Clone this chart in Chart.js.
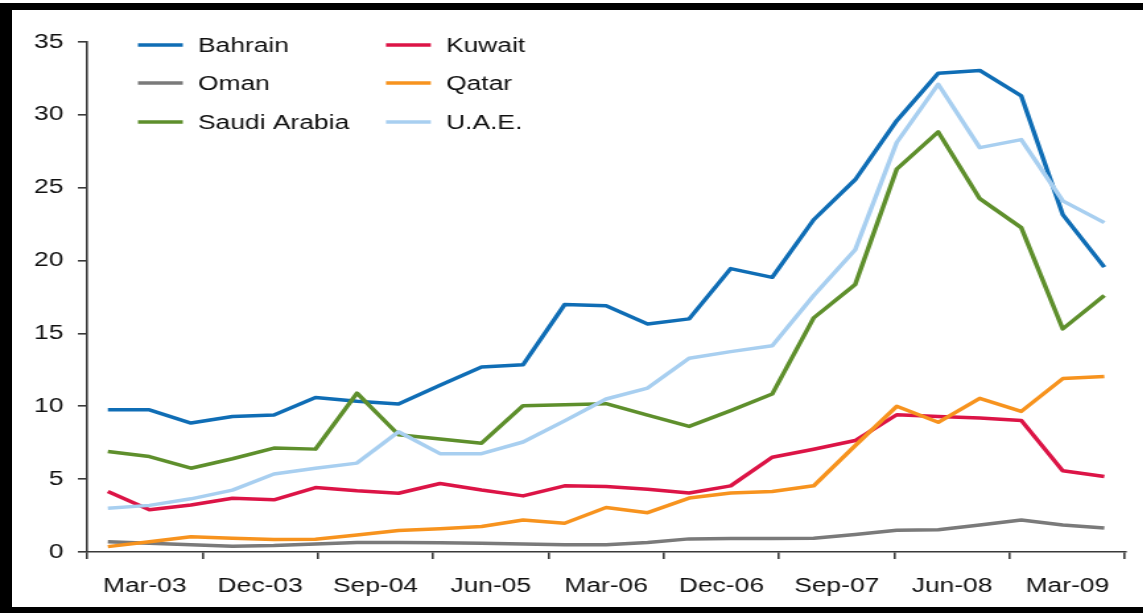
<!DOCTYPE html>
<html>
<head>
<meta charset="utf-8">
<script src="https://cdn.jsdelivr.net/npm/chart.js@4.4.0/dist/chart.umd.min.js"></script>
<style>
  html, body { margin:0; padding:0; background:#fff; overflow:hidden; }
  /* the source picture is stretched sideways, so the whole chart is too */
  #wrap { position:absolute; left:0; top:0; width:866px; height:613px; transform:scaleX(1.32); transform-origin:0 0; }
  .bar { position:absolute; background:#000; }
</style>
</head>
<body>
<div id="wrap"><canvas id="c"></canvas></div>
<div class="bar" style="left:0;top:3px;width:1143px;height:7px"></div>
<div class="bar" style="left:0;top:3px;width:12px;height:610px"></div>
<div class="bar" style="left:0;top:607px;width:1143px;height:6px"></div>
<script>
const quarters = ['Mar-03','Jun-03','Sep-03','Dec-03','Mar-04','Jun-04','Sep-04','Dec-04','Mar-05','Jun-05',
  'Sep-05','Dec-05','Mar-06','Jun-06','Sep-06','Dec-06','Mar-07','Jun-07','Sep-07','Dec-07',
  'Mar-08','Jun-08','Sep-08','Dec-08','Mar-09'];
const tickLabels = ['Mar-03','Dec-03','Sep-04','Jun-05','Mar-06','Dec-06','Sep-07','Jun-08','Mar-09'];

const bahrain = [9.76, 9.76, 8.85, 9.3, 9.4, 10.6, 10.35, 10.15, 11.45, 12.7, 12.85, 16.98, 16.9, 15.65, 16.0, 19.45, 18.85, 22.8, 25.55, 29.6, 32.85, 33.05, 31.3, 23.15, 19.55];
const kuwait = [4.15, 2.9, 3.23, 3.69, 3.58, 4.42, 4.2, 4.03, 4.7, 4.25, 3.85, 4.54, 4.5, 4.31, 4.05, 4.54, 6.5, 7.05, 7.65, 9.42, 9.3, 9.2, 9.03, 5.57, 5.18];
const oman = [0.7, 0.6, 0.5, 0.4, 0.45, 0.55, 0.65, 0.65, 0.64, 0.6, 0.55, 0.5, 0.5, 0.65, 0.9, 0.92, 0.93, 0.94, 1.2, 1.5, 1.52, 1.85, 2.2, 1.85, 1.65];
const qatar = [0.37, 0.7, 1.05, 0.94, 0.85, 0.87, 1.17, 1.47, 1.6, 1.75, 2.2, 1.97, 3.05, 2.7, 3.7, 4.05, 4.15, 4.54, 7.3, 10.0, 8.9, 10.55, 9.65, 11.9, 12.05];
const saudi = [6.9, 6.55, 5.75, 6.4, 7.13, 7.06, 10.9, 8.05, 7.75, 7.47, 10.04, 10.1, 10.18, 9.4, 8.62, 9.7, 10.84, 16.07, 18.36, 26.27, 28.83, 24.25, 22.26, 15.31, 17.6];
const uae = [3.0, 3.2, 3.65, 4.25, 5.35, 5.75, 6.1, 8.25, 6.75, 6.75, 7.55, 9.0, 10.5, 11.25, 13.3, 13.75, 14.15, 17.6, 20.75, 28.1, 32.1, 27.75, 28.3, 24.1, 22.6];

const names = ['Bahrain', 'Kuwait', 'Oman', 'Qatar', 'Saudi Arabia', 'U.A.E.'];
const series = [bahrain, kuwait, oman, qatar, saudi, uae];
const colors = ['#0f6db5', '#dc1446', '#7a7a7a', '#f7931e', '#5e8f2c', '#a8cff0'];

const FONT = '"Liberation Sans", Arial, sans-serif';
const INK = '#111';
const AXIS = '#3a3a3a';

// legend: 2 columns x 3 rows inside the plot
const legendGrid = {
  id: 'legendGrid',
  afterDatasetsDraw(chart) {
    const ctx = chart.ctx;
    const cols = [104.5, 292.4], rows = [45, 83, 122];
    ctx.save();
    ctx.font = '20px ' + FONT;
    ctx.textBaseline = 'middle';
    chart.data.datasets.forEach((ds, i) => {
      const x = cols[i % 2], y = rows[Math.floor(i / 2)];
      ctx.strokeStyle = ds.borderColor; ctx.lineWidth = 3.5;
      ctx.beginPath(); ctx.moveTo(x, y); ctx.lineTo(x + 34, y); ctx.stroke();
      ctx.fillStyle = INK;
      ctx.fillText(ds.label, x + 45.5, y + 1);
    });
    ctx.restore();
  }
};

new Chart(document.getElementById('c'), {
  type: 'line',
  data: {
    labels: quarters,
    datasets: series.map((d, i) => ({
      label: names[i], data: d, borderColor: colors[i], backgroundColor: colors[i],
      borderWidth: 3.5, pointRadius: 0, tension: 0, borderJoinStyle: 'round',
      order: series.length - i, xAxisID: 'x', yAxisID: 'y'
    }))
  },
  options: {
    animation: false, responsive: true, maintainAspectRatio: false,
    layout: { padding: { left: 26, right: 13.7, top: 42, bottom: 0 } },
    plugins: { legend: { display: false }, tooltip: { enabled: false } },
    scales: {
      x: { type: 'category', offset: true, display: false },
      xl: {
        type: 'category', labels: tickLabels, position: 'bottom', offset: true,
        grid: { offset: true, drawOnChartArea: false, tickLength: 7, color: AXIS, lineWidth: 1.6 },
        border: { color: AXIS, width: 1.6 },
        ticks: { color: INK, font: { family: FONT, size: 20 }, padding: 15, autoSkip: false, maxRotation: 0 }
      },
      y: {
        min: 0, max: 35,
        afterFit(s) { s.width = 40; },
        grid: { drawOnChartArea: false, tickLength: 7, color: AXIS, lineWidth: 1.6 },
        border: { color: AXIS, width: 1.6 },
        ticks: { stepSize: 5, color: INK, font: { family: FONT, size: 20 }, padding: 11 }
      }
    }
  },
  plugins: [legendGrid]
});
</script>
</body>
</html>
